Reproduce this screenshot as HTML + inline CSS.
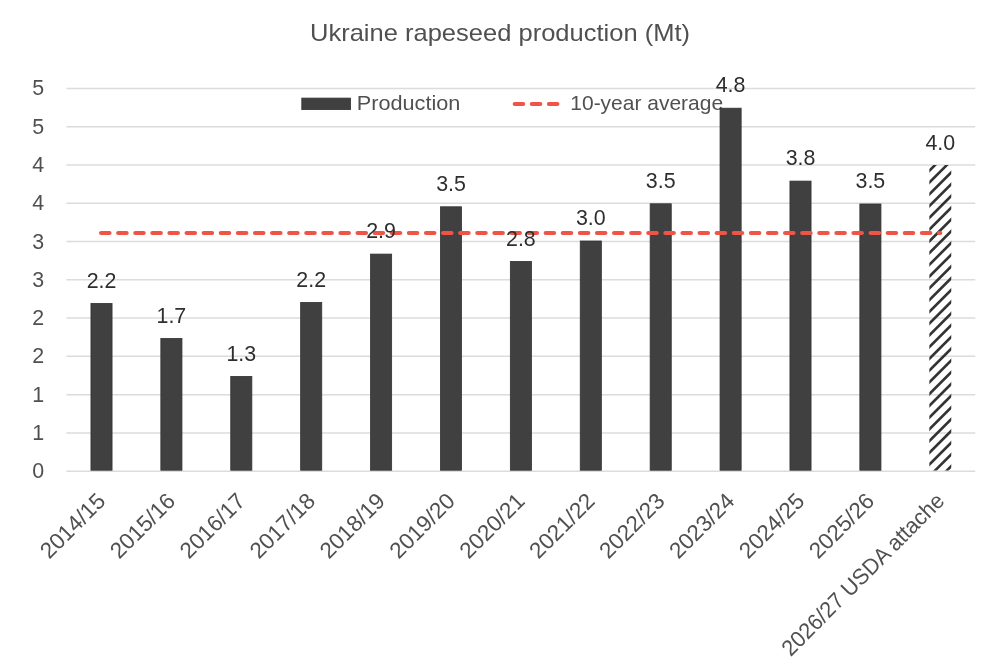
<!DOCTYPE html><html><head><meta charset="utf-8"><style>html,body{margin:0;padding:0;background:#fff;width:1000px;height:667px;overflow:hidden}svg{display:block;will-change:transform}text{font-family:"Liberation Sans",sans-serif}</style></head><body>
<svg width="1000" height="667" viewBox="0 0 1000 667">
<rect width="1000" height="667" fill="#fff"/>
<text x="500" y="41.1" text-anchor="middle" font-size="24" fill="#505050" textLength="380" lengthAdjust="spacingAndGlyphs">Ukraine rapeseed production (Mt)</text>
<line x1="66.4" x2="975.3" y1="471.20" y2="471.20" stroke="#DCDCDC" stroke-width="1.5"/>
<text x="44.2" y="478.20" text-anchor="end" font-size="21.4" fill="#505050">0</text>
<line x1="66.4" x2="975.3" y1="432.92" y2="432.92" stroke="#DCDCDC" stroke-width="1.5"/>
<text x="44.2" y="439.92" text-anchor="end" font-size="21.4" fill="#505050">1</text>
<line x1="66.4" x2="975.3" y1="394.64" y2="394.64" stroke="#DCDCDC" stroke-width="1.5"/>
<text x="44.2" y="401.64" text-anchor="end" font-size="21.4" fill="#505050">1</text>
<line x1="66.4" x2="975.3" y1="356.36" y2="356.36" stroke="#DCDCDC" stroke-width="1.5"/>
<text x="44.2" y="363.36" text-anchor="end" font-size="21.4" fill="#505050">2</text>
<line x1="66.4" x2="975.3" y1="318.08" y2="318.08" stroke="#DCDCDC" stroke-width="1.5"/>
<text x="44.2" y="325.08" text-anchor="end" font-size="21.4" fill="#505050">2</text>
<line x1="66.4" x2="975.3" y1="279.80" y2="279.80" stroke="#DCDCDC" stroke-width="1.5"/>
<text x="44.2" y="286.80" text-anchor="end" font-size="21.4" fill="#505050">3</text>
<line x1="66.4" x2="975.3" y1="241.52" y2="241.52" stroke="#DCDCDC" stroke-width="1.5"/>
<text x="44.2" y="248.52" text-anchor="end" font-size="21.4" fill="#505050">3</text>
<line x1="66.4" x2="975.3" y1="203.24" y2="203.24" stroke="#DCDCDC" stroke-width="1.5"/>
<text x="44.2" y="210.24" text-anchor="end" font-size="21.4" fill="#505050">4</text>
<line x1="66.4" x2="975.3" y1="164.96" y2="164.96" stroke="#DCDCDC" stroke-width="1.5"/>
<text x="44.2" y="171.96" text-anchor="end" font-size="21.4" fill="#505050">4</text>
<line x1="66.4" x2="975.3" y1="126.68" y2="126.68" stroke="#DCDCDC" stroke-width="1.5"/>
<text x="44.2" y="133.68" text-anchor="end" font-size="21.4" fill="#505050">5</text>
<line x1="66.4" x2="975.3" y1="88.40" y2="88.40" stroke="#DCDCDC" stroke-width="1.5"/>
<text x="44.2" y="95.40" text-anchor="end" font-size="21.4" fill="#505050">5</text>
<rect x="301.8" y="98.1" width="48.8" height="11.5" fill="#404040" stroke="#333" stroke-width="0.8"/>
<text x="356.8" y="110.2" font-size="19.8" fill="#505050" textLength="103.5" lengthAdjust="spacingAndGlyphs">Production</text>
<path d="M514.75,104 H557.4" stroke="#F05446" stroke-width="4.2" stroke-linecap="round" stroke-dasharray="8.4 8.7" fill="none"/>
<text x="570.3" y="110.1" font-size="20.2" fill="#505050" textLength="152.8" lengthAdjust="spacingAndGlyphs">10-year average</text>
<rect x="90.95" y="303.40" width="21.10" height="166.80" fill="#404040" stroke="#333" stroke-width="0.8"/>
<rect x="160.85" y="338.40" width="21.10" height="131.80" fill="#404040" stroke="#333" stroke-width="0.8"/>
<rect x="230.75" y="376.40" width="21.10" height="93.80" fill="#404040" stroke="#333" stroke-width="0.8"/>
<rect x="300.65" y="302.40" width="21.10" height="167.80" fill="#404040" stroke="#333" stroke-width="0.8"/>
<rect x="370.55" y="254.10" width="21.10" height="216.10" fill="#404040" stroke="#333" stroke-width="0.8"/>
<rect x="440.45" y="206.80" width="21.10" height="263.40" fill="#404040" stroke="#333" stroke-width="0.8"/>
<rect x="510.35" y="261.40" width="21.10" height="208.80" fill="#404040" stroke="#333" stroke-width="0.8"/>
<rect x="580.25" y="241.00" width="21.10" height="229.20" fill="#404040" stroke="#333" stroke-width="0.8"/>
<rect x="650.15" y="203.80" width="21.10" height="266.40" fill="#404040" stroke="#333" stroke-width="0.8"/>
<rect x="720.05" y="108.20" width="21.10" height="362.00" fill="#404040" stroke="#333" stroke-width="0.8"/>
<rect x="789.95" y="181.10" width="21.10" height="289.10" fill="#404040" stroke="#333" stroke-width="0.8"/>
<rect x="859.85" y="204.00" width="21.10" height="266.20" fill="#404040" stroke="#333" stroke-width="0.8"/>
<clipPath id="hc"><rect x="929.35" y="165" width="21.9" height="305.60"/></clipPath>
<path clip-path="url(#hc)" d="M923.35,141.50L957.25,107.60M923.35,153.25L957.25,119.35M923.35,165.00L957.25,131.10M923.35,176.75L957.25,142.85M923.35,188.50L957.25,154.60M923.35,200.25L957.25,166.35M923.35,212.00L957.25,178.10M923.35,223.75L957.25,189.85M923.35,235.50L957.25,201.60M923.35,247.25L957.25,213.35M923.35,259.00L957.25,225.10M923.35,270.75L957.25,236.85M923.35,282.50L957.25,248.60M923.35,294.25L957.25,260.35M923.35,306.00L957.25,272.10M923.35,317.75L957.25,283.85M923.35,329.50L957.25,295.60M923.35,341.25L957.25,307.35M923.35,353.00L957.25,319.10M923.35,364.75L957.25,330.85M923.35,376.50L957.25,342.60M923.35,388.25L957.25,354.35M923.35,400.00L957.25,366.10M923.35,411.75L957.25,377.85M923.35,423.50L957.25,389.60M923.35,435.25L957.25,401.35M923.35,447.00L957.25,413.10M923.35,458.75L957.25,424.85M923.35,470.50L957.25,436.60M923.35,482.25L957.25,448.35M923.35,494.00L957.25,460.10M923.35,505.75L957.25,471.85" stroke="#333333" stroke-width="2.6" fill="none"/>
<path d="M101.1,233 H940.3" stroke="#F05446" stroke-width="4.2" stroke-linecap="round" stroke-dasharray="8.4 8.7" fill="none"/>
<text x="101.50" y="287.50" text-anchor="middle" font-size="21.4" fill="#2e2e2e">2.2</text>
<text x="171.40" y="322.50" text-anchor="middle" font-size="21.4" fill="#2e2e2e">1.7</text>
<text x="241.30" y="360.50" text-anchor="middle" font-size="21.4" fill="#2e2e2e">1.3</text>
<text x="311.20" y="286.50" text-anchor="middle" font-size="21.4" fill="#2e2e2e">2.2</text>
<text x="381.10" y="238.20" text-anchor="middle" font-size="21.4" fill="#2e2e2e">2.9</text>
<text x="451.00" y="190.90" text-anchor="middle" font-size="21.4" fill="#2e2e2e">3.5</text>
<text x="520.90" y="245.50" text-anchor="middle" font-size="21.4" fill="#2e2e2e">2.8</text>
<text x="590.80" y="225.10" text-anchor="middle" font-size="21.4" fill="#2e2e2e">3.0</text>
<text x="660.70" y="187.90" text-anchor="middle" font-size="21.4" fill="#2e2e2e">3.5</text>
<text x="730.60" y="92.30" text-anchor="middle" font-size="21.4" fill="#2e2e2e">4.8</text>
<text x="800.50" y="165.20" text-anchor="middle" font-size="21.4" fill="#2e2e2e">3.8</text>
<text x="870.40" y="188.10" text-anchor="middle" font-size="21.4" fill="#2e2e2e">3.5</text>
<text x="940.30" y="149.50" text-anchor="middle" font-size="21.4" fill="#2e2e2e">4.0</text>
<text x="95.50" y="491.00" text-anchor="end" font-size="22.5" fill="#505050" transform="rotate(-45 95.50 491.00)" dominant-baseline="hanging">2014/15</text>
<text x="165.40" y="491.00" text-anchor="end" font-size="22.5" fill="#505050" transform="rotate(-45 165.40 491.00)" dominant-baseline="hanging">2015/16</text>
<text x="235.30" y="491.00" text-anchor="end" font-size="22.5" fill="#505050" transform="rotate(-45 235.30 491.00)" dominant-baseline="hanging">2016/17</text>
<text x="305.20" y="491.00" text-anchor="end" font-size="22.5" fill="#505050" transform="rotate(-45 305.20 491.00)" dominant-baseline="hanging">2017/18</text>
<text x="375.10" y="491.00" text-anchor="end" font-size="22.5" fill="#505050" transform="rotate(-45 375.10 491.00)" dominant-baseline="hanging">2018/19</text>
<text x="445.00" y="491.00" text-anchor="end" font-size="22.5" fill="#505050" transform="rotate(-45 445.00 491.00)" dominant-baseline="hanging">2019/20</text>
<text x="514.90" y="491.00" text-anchor="end" font-size="22.5" fill="#505050" transform="rotate(-45 514.90 491.00)" dominant-baseline="hanging">2020/21</text>
<text x="584.80" y="491.00" text-anchor="end" font-size="22.5" fill="#505050" transform="rotate(-45 584.80 491.00)" dominant-baseline="hanging">2021/22</text>
<text x="654.70" y="491.00" text-anchor="end" font-size="22.5" fill="#505050" transform="rotate(-45 654.70 491.00)" dominant-baseline="hanging">2022/23</text>
<text x="724.60" y="491.00" text-anchor="end" font-size="22.5" fill="#505050" transform="rotate(-45 724.60 491.00)" dominant-baseline="hanging">2023/24</text>
<text x="794.50" y="491.00" text-anchor="end" font-size="22.5" fill="#505050" transform="rotate(-45 794.50 491.00)" dominant-baseline="hanging">2024/25</text>
<text x="864.40" y="491.00" text-anchor="end" font-size="22.5" fill="#505050" transform="rotate(-45 864.40 491.00)" dominant-baseline="hanging">2025/26</text>
<text x="934.30" y="491.00" text-anchor="end" font-size="22.5" fill="#505050" transform="rotate(-45 934.30 491.00)" dominant-baseline="hanging" textLength="219" lengthAdjust="spacingAndGlyphs">2026/27 USDA attache</text>
</svg></body></html>
